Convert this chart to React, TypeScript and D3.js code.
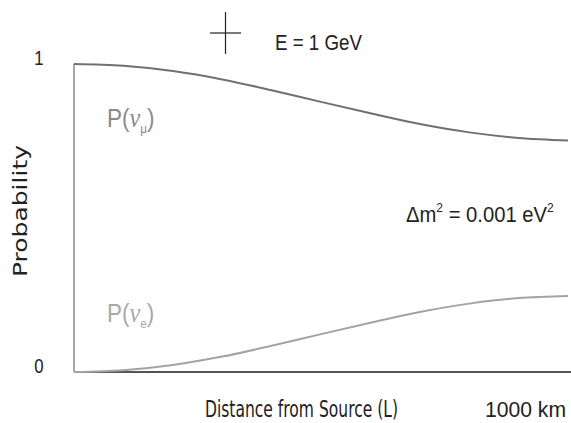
import React from "react";
import * as d3 from "d3";

const distanceKm = [0, 100, 200, 300, 400, 500, 600, 700, 800, 900, 1000];
const probMu = [1, 0.994, 0.977, 0.95, 0.915, 0.877, 0.84, 0.805, 0.778, 0.76, 0.752];
const probE = [0, 0.006, 0.023, 0.05, 0.085, 0.123, 0.16, 0.195, 0.222, 0.24, 0.247];
const yTickValues = [0, 1];
const yTickLabels = ["0", "1"];

const W = 571;
const H = 423;
const left = 74;
const right = 568;
const top = 64;
const bottom = 372;

const narrow = "'Liberation Sans', Arial, sans-serif";
const geo = "'DejaVu Sans', sans-serif";

function Squeezed({
  x,
  y,
  sx,
  children,
  ...rest
}: {
  x: number;
  y: number;
  sx: number;
  children: React.ReactNode;
  [k: string]: any;
}) {
  return (
    <text transform={`translate(${x},${y}) scale(${sx},1)`} {...rest}>
      {children}
    </text>
  );
}

export default function App() {
  const x = d3.scaleLinear().domain([0, 1000]).range([left, right]);
  const y = d3.scaleLinear().domain([0, 1]).range([bottom, top]);
  const line = d3
    .line<number>()
    .x((_, i) => x(distanceKm[i]))
    .y((d) => y(d))
    .curve(d3.curveMonotoneX);

  return (
    <svg
      width={W}
      height={H}
      viewBox={`0 0 ${W} ${H}`}
      style={{ position: "absolute", left: 0, top: 0, background: "#fff" }}
    >
      {/* axes */}
      <line x1={left} y1={y(1)} x2={left} y2={y(0)} stroke="#8a8a8a" strokeWidth={1.5} />
      <line x1={left} y1={y(0)} x2={W} y2={y(0)} stroke="#555" strokeWidth={2.2} />

      {/* tick labels */}
      {yTickValues.map((v, i) => (
        <Squeezed
          key={v}
          x={39}
          y={y(v) + 1}
          sx={0.8}
          textAnchor="middle"
          fontFamily={narrow}
          fontSize={21}
          fill="#222"
        >
          {yTickLabels[i]}
        </Squeezed>
      ))}

      {/* y label */}
      <text
        transform={`translate(27,211) rotate(-90)`}
        textAnchor="middle"
        fontFamily={geo}
        fontSize={19}
        fill="#222"
        textLength={132}
        lengthAdjust="spacingAndGlyphs"
      >
        Probability
      </text>

      {/* x labels */}
      <text
        x={205}
        y={417}
        fontFamily={geo}
        fontSize={23}
        fill="#222"
        textLength={193}
        lengthAdjust="spacingAndGlyphs"
      >
        Distance from Source (L)
      </text>
      <text
        x={485}
        y={417}
        fontFamily={narrow}
        fontSize={22}
        fill="#222"
        textLength={81}
        lengthAdjust="spacingAndGlyphs"
      >
        1000 km
      </text>

      {/* curves */}
      <path d={line(probMu) || ""} fill="none" stroke="#707070" strokeWidth={2} />
      <path d={line(probE) || ""} fill="none" stroke="#a3a3a3" strokeWidth={2} />

      {/* crosshair legend */}
      <line x1={210} y1={33} x2={241} y2={33} stroke="#222" strokeWidth={1.2} />
      <line x1={225.5} y1={12} x2={225.5} y2={54} stroke="#222" strokeWidth={1.2} />
      <text
        x={275}
        y={50}
        fontFamily={narrow}
        fontSize={22}
        fill="#222"
        textLength={87}
        lengthAdjust="spacingAndGlyphs"
      >
        E = 1 GeV
      </text>

      {/* delta m^2 */}
      <Squeezed x={406} y={222} sx={0.92} fontFamily={narrow} fontSize={22} fill="#222">
        <tspan>Δm</tspan>
        <tspan fontSize={13} dy={-10}>2</tspan>
        <tspan dy={10}> = 0.001 eV</tspan>
        <tspan fontSize={13} dy={-10}>2</tspan>
      </Squeezed>

      {/* curve labels */}
      <Squeezed x={107} y={127} sx={0.9} fontFamily={narrow} fontSize={25} fill="#8a8a8a">
        <tspan>P(</tspan>
        <tspan fontStyle="italic" fontFamily="'Liberation Serif', serif" fontSize={27}>ν</tspan>
        <tspan fontSize={13} dy={6}>μ</tspan>
        <tspan dy={-6}>)</tspan>
      </Squeezed>
      <Squeezed x={107} y={322} sx={0.9} fontFamily={narrow} fontSize={25} fill="#a8a8a8">
        <tspan>P(</tspan>
        <tspan fontStyle="italic" fontFamily="'Liberation Serif', serif" fontSize={27}>ν</tspan>
        <tspan fontSize={13} dy={6}>e</tspan>
        <tspan dy={-6}>)</tspan>
      </Squeezed>
    </svg>
  );
}
